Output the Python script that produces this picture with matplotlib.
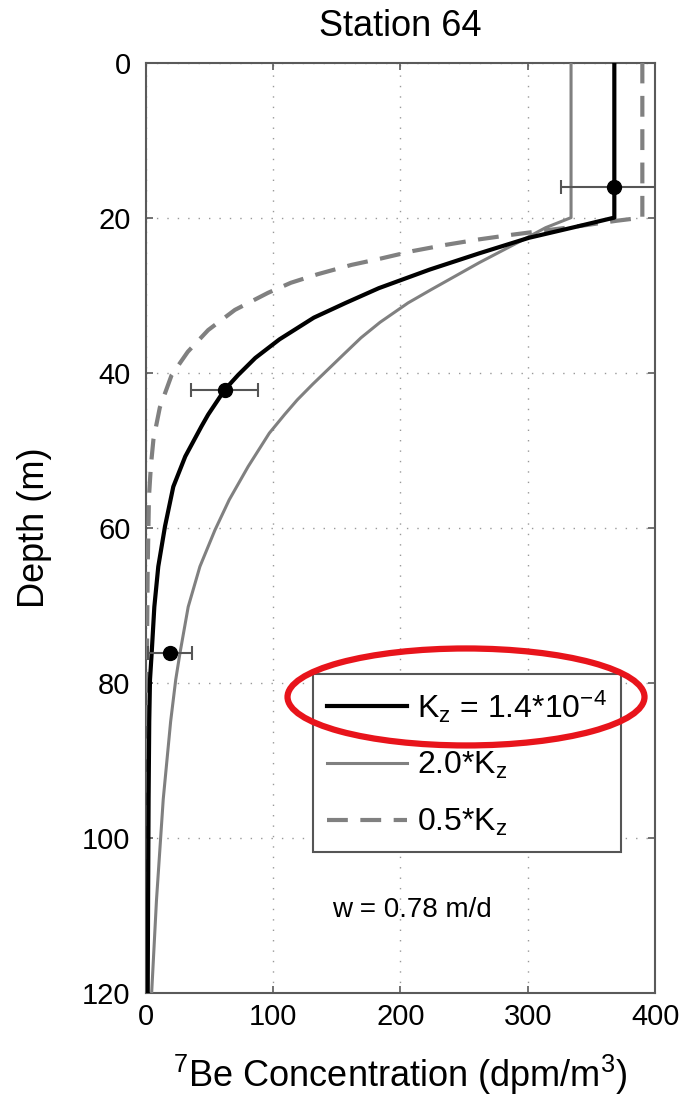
import matplotlib
matplotlib.use("Agg")
import matplotlib.pyplot as plt
from matplotlib.patches import Ellipse

plt.rcParams['font.family'] = ['Liberation Sans', 'DejaVu Sans']
plt.rcParams['mathtext.fontset'] = 'custom'
plt.rcParams['mathtext.rm'] = 'Liberation Sans'
plt.rcParams['mathtext.it'] = 'Liberation Sans'
plt.rcParams['mathtext.default'] = 'regular'

# model profiles for three eddy diffusivities (depth in m, 7Be in dpm/m3)
depth_kz = [0, 20, 21.1, 22.6, 24.6, 26.7, 29.1, 31.0, 32.9, 35.7, 38.1,
            40.3, 42.2, 45.4, 46.9, 50.8, 54.7, 59.8, 65.0, 70.2, 76.2,
            79.6, 85, 95, 108, 120]
conc_kz = [368, 368, 340, 301, 262, 223, 183, 157, 132, 105, 86,
           72.5, 62, 49, 43.8, 31, 21.6, 15.1, 9.8, 6.7, 4.6,
           3.3, 2.7, 2.2, 1.8, 1.5]

depth_2kz = [0, 20, 21.3, 23.1, 25.8, 29.3, 31.0, 33.5, 35.5, 37.7, 41.5,
             43.5, 45.4, 47.8, 52.1, 56.4, 60.3, 65.0, 70.2, 76.2, 79.6, 85,
             95, 108, 120]
conc_2kz = [334, 334, 314, 293.5, 262, 224, 206, 184, 169, 155, 131,
            119, 109, 97, 80.4, 65.5, 54.3, 42.5, 33.3, 26.8, 23.5, 19.5,
            13.7, 8.4, 4.6]

depth_halfkz = [0, 20, 20.4, 21.1, 22.2, 22.8, 23.5, 24.3, 25.3, 26.1, 27.3,
                28.4, 29.7, 31.9, 34.5, 37.3, 40.3, 44.5, 48.6, 52, 56, 65,
                80, 100, 120]
conc_halfkz = [390, 390, 370, 340, 288, 262, 236, 210, 184, 161.5, 135,
               114, 96, 70, 49, 33, 20.3, 11, 6, 4, 2.5, 1.5,
               0.7, 0.4, 0.3]

# measured concentrations
obs_depth = [16, 42.2, 76.2]
obs_conc = [368, 62, 19]
obs_err = [42, 26.5, 17]

fig = plt.figure(figsize=(6.91, 11.07), dpi=100)
ax = fig.add_axes([0.211, 0.103, 0.737, 0.8405])

ax.plot(conc_kz, depth_kz, color='black', lw=3.0,
        label=r'$K_z$ = 1.4*10$^{-4}$', zorder=4)
ax.plot(conc_2kz, depth_2kz, color='#808080', lw=2.2,
        label=r'2.0*$K_z$', zorder=3)
ax.plot(conc_halfkz, depth_halfkz, color='#808080', lw=3.0,
        dashes=(5, 3), label=r'0.5*$K_z$', zorder=3)

ax.errorbar(obs_conc, obs_depth, xerr=obs_err, fmt='o', color='black',
            ms=10, ecolor='#555555', elinewidth=1.5, capsize=5,
            capthick=1.5, zorder=5)

ax.set_xlim(0, 400)
ax.set_ylim(120, 0)
ax.set_xticks([0, 100, 200, 300, 400])
ax.set_yticks([0, 20, 40, 60, 80, 100, 120])

ax.grid(True, color='#999999', lw=1.0, linestyle=(0, (1, 6.5)))
for s in ax.spines.values():
    s.set_color('#5a5a5a')
    s.set_linewidth(1.5)
ax.tick_params(direction='in', length=5, width=1.2, color='#5a5a5a',
               top=True, right=True, labelsize=21)
ax.tick_params(axis='x', pad=7)
ax.tick_params(axis='y', pad=11)

ax.set_title('Station 64', fontsize=26, pad=19)
ax.set_xlabel(r'$^7$Be Concentration (dpm/m$^3$)', fontsize=26, labelpad=16)
ax.set_ylabel('Depth (m)', fontsize=26)
ax.yaxis.set_label_coords(-0.185, 0.5)

ax.text(146, 109.3, 'w = 0.78 m/d', fontsize=20, va='center')

leg = ax.legend(loc='upper left', bbox_to_anchor=(0.328, 0.343),
                borderaxespad=0, fontsize=23, handlelength=2.5,
                handletextpad=0.3, labelspacing=0.8, borderpad=0.45,
                fancybox=False, framealpha=1)
leg.get_frame().set_edgecolor('#555555')
leg.get_frame().set_linewidth(1.5)

# red ring highlighting the best-fit Kz entry
ring = Ellipse((0.6744, 0.3704), 0.5166, 0.0876, transform=fig.transFigure,
               fill=False, edgecolor='#e8141b', lw=4.5, zorder=10)
fig.add_artist(ring)

fig.savefig('out.png', dpi=100)
